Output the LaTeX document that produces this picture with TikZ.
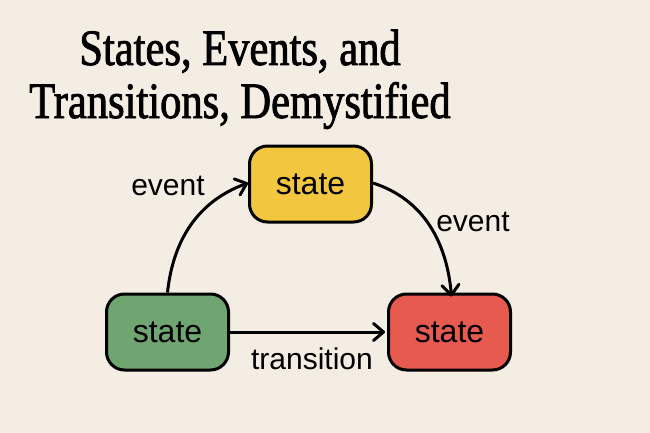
\documentclass[tikz,border=0pt]{standalone}
\usepackage{fontspec}
\setmainfont{Liberation Sans}
\newfontfamily\titlefont[FakeStretch=0.834,FakeBold=1.6]{Liberation Serif}
\usetikzlibrary{arrows.meta}

\definecolor{bgcream}{HTML}{F4EDE3}
\definecolor{stateyellow}{HTML}{F3C63F}
\definecolor{stategreen}{HTML}{6EA570}
\definecolor{statered}{HTML}{E65A50}

\tikzset{
	state/.style={draw,rectangle,rounded corners=18pt,line width=3pt,minimum width=122pt,minimum height=76pt,inner sep=0,font=\fontsize{32}{36}\selectfont},
	label/.style={inner sep=0,font=\fontsize{30}{34}\selectfont},
	move/.style={line width=3pt,-{Straight Barb[length=10pt,width=17pt,line join=round,line cap=round]}}
}

\begin{document}
\begin{tikzpicture}[x=1pt,y=-1pt]
	\fill[bgcream] (0,0) rectangle (650,433);
	\useasboundingbox (0,0) rectangle (650,433);
	\node[anchor=base,inner sep=0,font=\titlefont\fontsize{51}{53}\selectfont] (title1) at (240,65) {States, Events, and};
	\node[anchor=base,inner sep=0,font=\titlefont\fontsize{51}{53}\selectfont] (title2) at (240,118) {Transitions, Demystified};
	\node[state,fill=stateyellow] (top) at (310.5,184) {state};
	\node[state,fill=stategreen] (start) at (167.5,332) {state};
	\node[state,fill=statered] (finish) at (449.5,332) {state};
	\node[label] (ev1) at (168,186) {event};
	\node[label] (ev2) at (473,222) {event};
	\node[label] (trans) at (312,359) {transition};
	\draw[move] (start.north) to[out=84,in=200] ([yshift=1pt]top.west);
	\draw[move] ([yshift=1pt]top.east) to[out=-18,in=95] ([xshift=2pt,yshift=-4pt]finish.north);
	\draw[move] (start.east) -- ([xshift=-2pt]finish.west);
\end{tikzpicture}
\end{document}
